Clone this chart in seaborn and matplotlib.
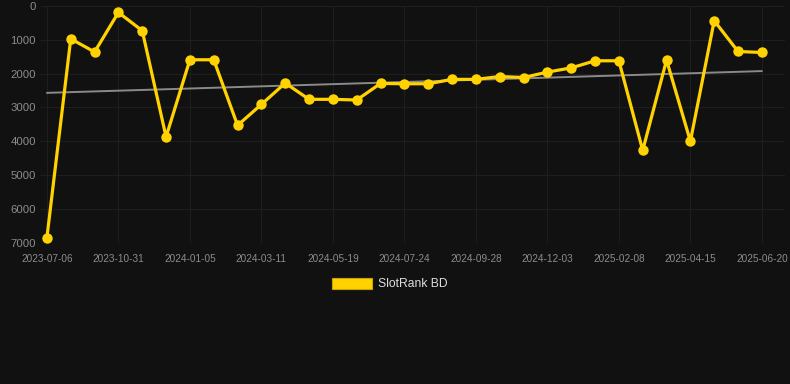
"""SlotRank BD rank history, dark theme."""

import matplotlib

matplotlib.use("Agg")
import matplotlib.pyplot as plt
import matplotlib.patches as mpatches
import numpy as np
import seaborn as sns

# rank per sample (lower is better, axis is inverted)
rank = [
    6850, 970, 1360, 190, 730, 3870, 1590, 1590, 3530, 2910,
    2280, 2760, 2760, 2780, 2290, 2300, 2300, 2170, 2170, 2085,
    2115, 1955, 1830, 1620, 1620, 4270, 1600, 4000, 435, 1345,
    1375,
]
tick_labels = [
    "2023-07-06", "2023-10-31", "2024-01-05", "2024-03-11", "2024-05-19",
    "2024-07-24", "2024-09-28", "2024-12-03", "2025-02-08", "2025-04-15",
    "2025-06-20",
]
y_ticks = [0, 1000, 2000, 3000, 4000, 5000, 6000, 7000]
series_name = "SlotRank BD"

BG = "#111111"
GOLD = "#ffd200"

sns.set_theme(style="dark")
plt.rcParams["font.family"] = ["Liberation Sans", "DejaVu Sans"]

fig = plt.figure(figsize=(7.9, 3.84), dpi=100, facecolor=BG)
ax = fig.add_axes([40 / 790, 1 - 242.7 / 384, 745 / 790, 236.7 / 384])
ax.set_facecolor(BG)

idx = np.arange(len(rank))

# linear trend
coef = np.polyfit(idx, rank, 1)
ax.plot(idx, np.polyval(coef, idx), color="#8a8a8a", lw=1.4, zorder=2)

sns.lineplot(
    x=idx, y=rank, ax=ax, color=GOLD, lw=2.3, marker="o", markersize=7.5,
    markeredgewidth=0, zorder=3, clip_on=False,
)

ax.set_xlim(-0.29, 30.97)
ax.set_ylim(7000, 0)
ax.set_xticks(idx[::3])
ax.set_xticklabels(tick_labels)
ax.set_yticks(y_ticks)
ax.tick_params(axis="x", colors="#8c8c8c", labelsize=7.2, length=0, pad=8)
ax.tick_params(axis="y", colors="#8c8c8c", labelsize=8.2, length=0, pad=3)
ax.grid(True, color="#1e1e1e", lw=0.8)
for s in ax.spines.values():
    s.set_visible(False)
ax.set_xlabel("")
ax.set_ylabel("")

handle = mpatches.Patch(facecolor=GOLD, edgecolor="#c9a400", lw=0.8, label=series_name)
fig.legend(
    handles=[handle], loc="center", bbox_to_anchor=(390 / 790, 1 - 284 / 384),
    frameon=False, fontsize=8.7, labelcolor="#dddddd", handlelength=3.3,
    handleheight=1.0, handletextpad=0.5,
)

fig.savefig("out.png", dpi=100, facecolor=BG)
